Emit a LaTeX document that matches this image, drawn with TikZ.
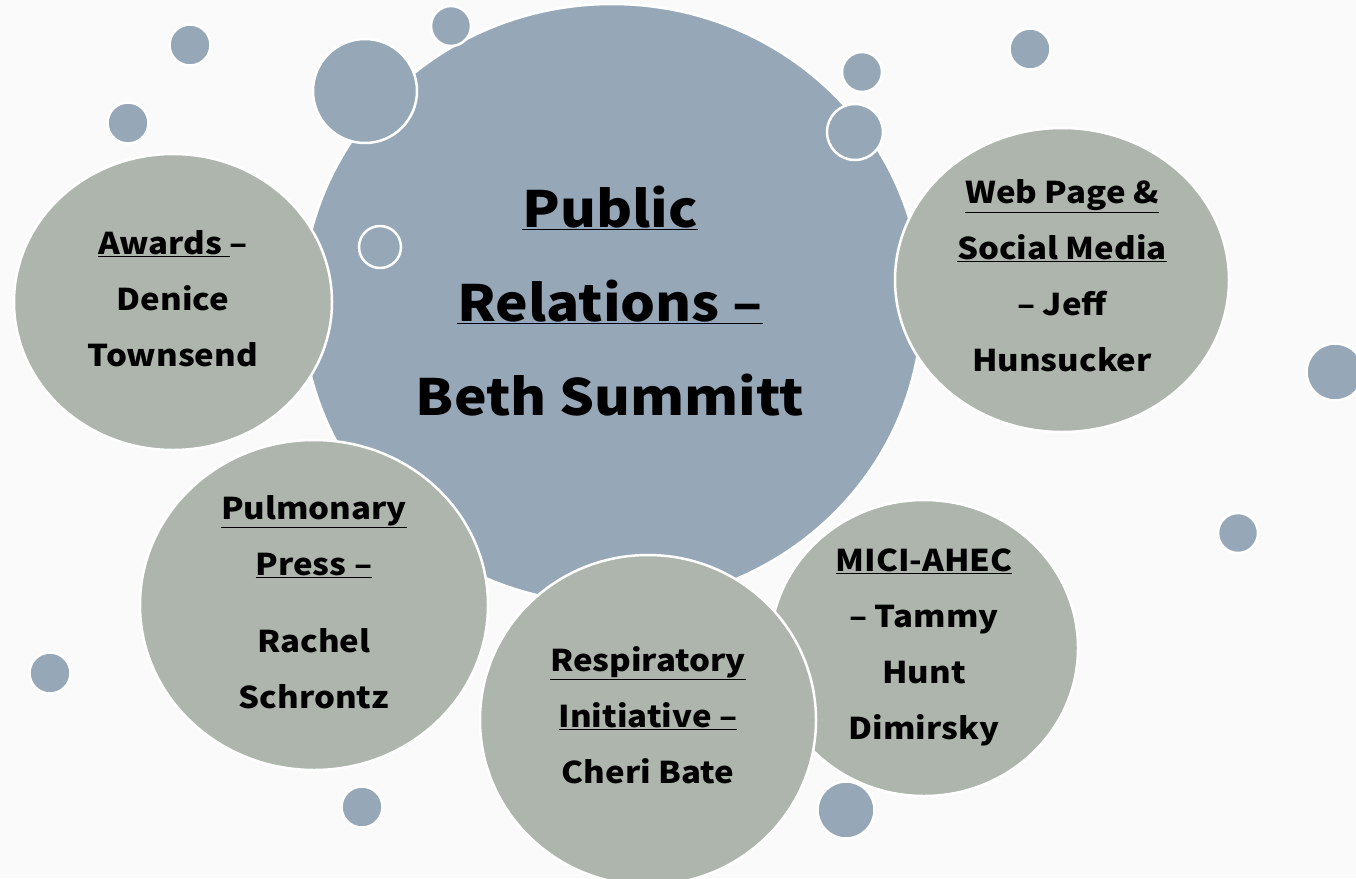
\documentclass[tikz,border=0pt]{standalone}
\usepackage{fontspec}
\setmainfont{Noto Sans CJK JP}[FakeStretch=1.1]
\usetikzlibrary{shapes.geometric}
\definecolor{bubble}{RGB}{150,167,184}
\definecolor{sage}{RGB}{173,181,172}
\definecolor{paper}{RGB}{250,250,250}
\tikzset{
  dot/.style={circle, fill=bubble, draw=white, line width=2.5pt, minimum size=#1, inner sep=0pt},
  ring/.style={circle, draw=white, line width=2.5pt, minimum size=#1, inner sep=0pt},
  topic/.style={ellipse, fill=sage, draw=white, line width=2.5pt, inner sep=0pt},
  topictext/.style={align=center, inner sep=0pt, font=\bfseries\fontsize{30}{56}\selectfont},
  hub/.style={ellipse, fill=bubble, draw=white, line width=2.5pt, inner sep=0pt,
    minimum width=620pt, minimum height=600pt},
  hubtext/.style={align=center, inner sep=0pt, font=\bfseries\fontsize{50}{94}\selectfont}
}
\begin{document}
\begin{tikzpicture}[x=1pt,y=-1pt]
\fill[paper] (0,0) rectangle (1356,878);
\useasboundingbox (0,0) rectangle (1356,878);
% main hub
\node[hub] (hub) at (612,304) {};
\node[hubtext] (hubt) at (610,301) {\underline{Public}\\\underline{Relations –}\\Beth Summitt};
% bubbles overlapping the hub
\node[dot=104pt] (b1) at (365,91) {};
\node[dot=40pt] (b2) at (451,26) {};
\node[dot=56pt] (b3) at (855,132) {};
\node[ring=42pt] (r1) at (380,247) {};
% topics
\node[topic, minimum width=318pt, minimum height=296pt] (awards) at (173,302) {};
\node[topictext] (awardst) at (173,299) {\underline{Awards\ }–\\Denice\\Townsend};
\node[topic, minimum width=334pt, minimum height=304pt] (web) at (1062,280) {};
\node[topictext] (webt) at (1062,276) {\underline{Web Page \&}\\\underline{Social Media}\\– Jeff\\Hunsucker};
\node[topic, minimum width=348pt, minimum height=330pt] (pulm) at (314,605) {};
\node[topictext] (pulmt) at (314,602) {\underline{Pulmonary}\\\underline{Press –}\\[21pt]Rachel\\Schrontz};
\node[topic, minimum width=308pt, minimum height=296pt] (mici) at (924,648) {};
\node[topictext] (micit) at (924,647) {\underline{MICI-AHEC}\\– Tammy\\Hunt\\Dimirsky};
\node[topic, minimum width=336pt, minimum height=330pt] (resp) at (648,720) {};
\node[topictext] (respt) at (648,715) {\underline{Respiratory}\\\underline{Initiative –}\\Cheri Bate};
% free bubbles
\node[dot=41pt] (b4) at (190,45) {};
\node[dot=41pt] (b5) at (128,123) {};
\node[dot=40pt] (b6) at (862,72) {};
\node[dot=41pt] (b7) at (1030,49) {};
\node[dot=57pt] (b8) at (1335,372) {};
\node[dot=40pt] (b9) at (1238,533) {};
\node[dot=41pt] (b10) at (50,673) {};
\node[dot=41pt] (b11) at (362,807) {};
\node[dot=57pt] (b12) at (846,810) {};
\end{tikzpicture}
\end{document}
